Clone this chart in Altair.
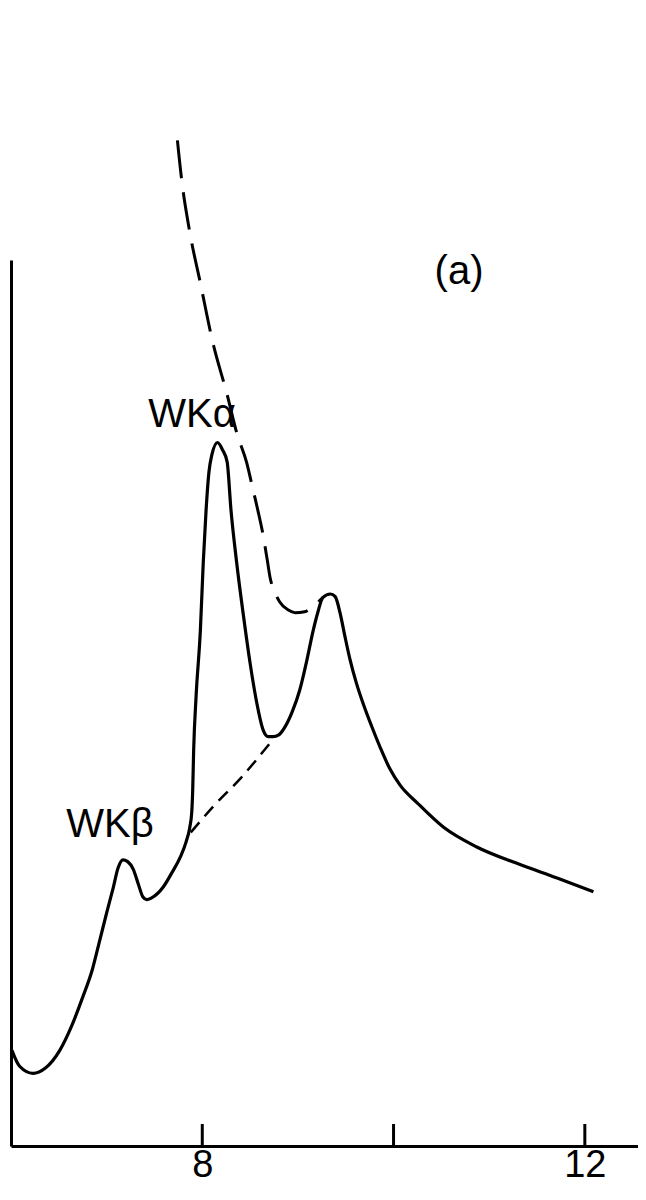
import altair as alt
import pandas as pd

# Solid spectrum (energy, intensity in arbitrary units)
solid_x = [6.01, 6.09, 6.23, 6.36, 6.51, 6.64, 6.75, 6.85, 6.93, 7.00, 7.07, 7.12, 7.17, 7.22,
           7.28, 7.33, 7.38, 7.42, 7.47, 7.59, 7.68, 7.77, 7.83, 7.87, 7.89, 7.90, 7.91, 7.935,
           7.98, 8.01, 8.04, 8.07, 8.10, 8.16, 8.21, 8.26, 8.30, 8.36, 8.43, 8.50, 8.57, 8.635,
           8.69, 8.74, 8.80, 8.865, 8.94, 9.02, 9.095, 9.16, 9.21, 9.26, 9.34, 9.39, 9.44, 9.49,
           9.545, 9.61, 9.68, 9.77, 9.86, 9.96, 10.07, 10.25, 10.52, 10.87,
           11.29, 11.71, 12.09]
solid_y = [10.8, 9.0, 8.2, 8.8, 10.8, 13.7, 16.8, 19.9, 23.3, 26.3, 29.2, 31.4, 32.3, 32.1,
           31.2, 29.6, 28.1, 27.8, 28.0, 29.2, 30.8, 32.6, 34.3, 36.0, 37.7, 40.2, 44.7, 50.7,
           58.2, 65.8, 71.8, 76.1, 78.0, 79.4, 78.6, 77.2, 71.8, 65.8, 59.9, 54.5, 50.0, 47.0,
           46.2, 46.2, 46.4, 47.3, 49.0, 51.5, 54.9, 58.2, 60.3, 61.9, 62.3, 62.0, 60.2, 57.6,
           54.9, 52.3, 50.0, 47.4, 45.0, 42.6, 40.7, 38.7, 36.0, 33.75,
           31.9, 30.25, 28.7]

# Long-dashed curve
dash_x = [7.74, 7.785, 7.87, 7.98, 8.11, 8.26, 8.36, 8.465, 8.52, 8.58, 8.635, 8.68, 8.71,
          8.76, 8.81, 8.90, 8.97, 9.07, 9.18, 9.26]
dash_y = [113.5, 109.0, 103.1, 97.4, 90.7, 84.8, 80.5, 77.1, 74.6, 71.8, 69.0, 66.1, 64.1,
          62.5, 61.4, 60.5, 60.2, 60.3, 61.1, 61.9]

# Short-dashed background line
bg_x = [7.88, 8.13, 8.40, 8.71]
bg_y = [35.4, 38.5, 41.5, 45.5]

# Annotations
label_text = ["WK\u03b2", "WK\u03b1", "(a)"]
label_x = [7.035, 7.893, 10.685]
label_y = [36.2, 82.5, 98.6]

tick_values = [8, 10, 12]
tick_labels = ["8", "", "12"]

FONT = "Liberation Sans"

solid_df = pd.DataFrame({"x": solid_x, "y": solid_y, "i": range(len(solid_x))})
dash_df = pd.DataFrame({"x": dash_x, "y": dash_y, "i": range(len(dash_x))})
bg_df = pd.DataFrame({"x": bg_x, "y": bg_y, "i": range(len(bg_x))})
lab_df = pd.DataFrame({"x": label_x, "y": label_y, "t": label_text})
tick_df = pd.DataFrame({"x": tick_values})

label_map = "{" + ",".join(f"'{v}':'{l}'" for v, l in zip(tick_values, tick_labels)) + "}"

xscale = alt.Scale(domain=[6, 12.556], nice=False, zero=False)
yscale = alt.Scale(domain=[0, 100], nice=False, zero=False)

xaxis = alt.Axis(values=tick_values, ticks=False, domainWidth=3, domainColor="black",
                 labelFont=FONT, labelFontSize=38, labelColor="black", labelPadding=0,
                 labelExpr=f"{label_map}[datum.value + ''] || ''", labelOverlap=False,
                 labelFlush=False, grid=False, title=None)
yaxis = alt.Axis(ticks=False, labels=False, domainWidth=3, domainColor="black",
                 grid=False, title=None)

X = alt.X("x:Q", scale=xscale, axis=xaxis)
Y = alt.Y("y:Q", scale=yscale, axis=yaxis)

solid = alt.Chart(solid_df).mark_line(color="black", strokeWidth=3.2, interpolate="monotone").encode(
    x=X, y=Y, order="i:Q")
dashed = alt.Chart(dash_df).mark_line(color="black", strokeWidth=3, strokeDash=[38, 14],
                                      interpolate="monotone").encode(x=X, y=Y, order="i:Q")
bg = alt.Chart(bg_df).mark_line(color="black", strokeWidth=2.5, strokeDash=[13, 8],
                                interpolate="monotone").encode(x=X, y=Y, order="i:Q")
ticks = alt.Chart(tick_df).mark_rule(color="black", strokeWidth=3).encode(
    x=X, y=alt.value(886), y2=alt.value(864))
labels = alt.Chart(lab_df).mark_text(font=FONT, fontSize=40, color="black", align="center",
                                     baseline="middle").encode(x=X, y=Y, text="t:N")

chart = alt.layer(solid, dashed, bg, ticks, labels).properties(
    width=627, height=886,
    padding={"left": 3, "top": 252, "right": 0, "bottom": 39},
    autosize=alt.AutoSizeParams(type="none"),
    background="white",
).configure_view(stroke=None)

chart.save("out.html", embed_options={"renderer": "svg", "actions": False})
